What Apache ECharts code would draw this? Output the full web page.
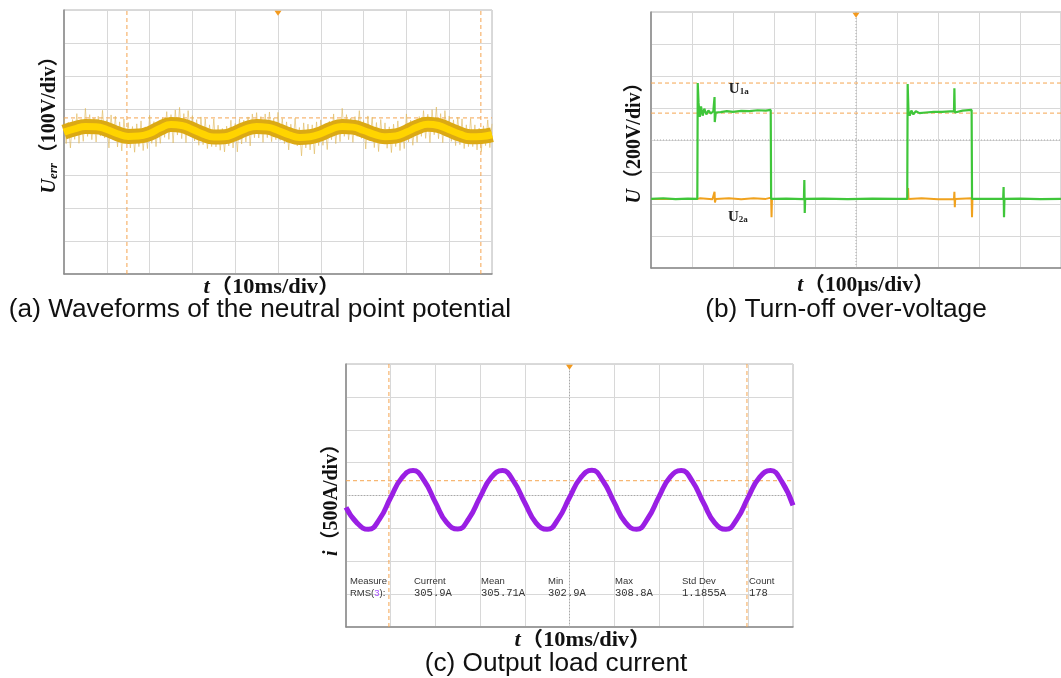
<!DOCTYPE html>
<html><head><meta charset="utf-8">
<script src="https://cdn.jsdelivr.net/npm/echarts@6/dist/echarts.min.js"></script>
<style>html,body{margin:0;padding:0;background:#fff}#c{width:1061px;height:678px}</style>
</head><body><div id="c"></div>
<script>
// ---------- DATA (oscilloscope divisions) ----------
// (a) neutral point potential: band centre every 0.25 div
const aCentre = [0.30,0.40,0.47,0.46,0.38,0.25,0.17,0.18,0.26,0.42,0.53,0.50,0.38,0.24,0.15,0.16,0.26,0.40,0.47,0.45,0.35,0.22,0.14,0.16,0.25,0.39,0.47,0.45,0.35,0.23,0.16,0.18,0.30,0.45,0.54,0.50,0.37,0.24,0.16,0.17,0.22];
// (a) switching noise every 0.05 div
const aNoise = [
 .72,-.05,.60,-.18,.68, .08,.86,-.04,.68,.02, 1.02,.17,.83,.07,.73, .00,.78,.18,.96,.12,
 .68,-.18,.82,.06,.78, -.15,.61,-.27,.70,-.02, .59,-.18,.47,-.31,.55, -.14,.64,-.26,.46,-.20,
 .81,-.04,.62,-.14,.52, -.04,.74,.14,.92,.08, .83,-.03,.97,.21,1.05, .10,.86,-.02,.95,.23,
 .80,.03,.68,-.10,.76, -.08,.70,-.20,.52,-.14, .70,-.15,.51,-.25,.41, -.30,.48,-.12,.66,-.18,
 .56,-.30,.70,-.06,.66, .00,.76,-.12,.85,.13, .89,.12,.77,-.01,.85, .13,.91,.01,.73,.07,
 .90,.05,.71,-.05,.61, -.24,.54,-.06,.72,-.12, .44,-.42,.58,-.18,.54, -.24,.52,-.36,.61,-.11,
 .67,-.10,.55,-.23,.63, .07,.85,-.05,.67,.01, 1.02,.17,.83,.07,.73, -.01,.77,.17,.95,.11,
 .65,-.21,.79,.03,.75, -.17,.59,-.29,.68,-.04, .58,-.19,.46,-.32,.54, -.14,.64,-.26,.46,-.20,
 .85,.00,.66,-.10,.56, -.01,.77,.17,.95,.11, .84,-.02,.98,.22,1.06, .10,.86,-.02,.95,.23,
 .79,.02,.67,-.11,.75, -.08,.70,-.20,.52,-.14, .71,-.14,.52,-.24,.42, -.29,.49,-.11,.67,-.17,
 .55];
const aCursorX = [1.47, 9.74];
const aCursorY = [0.73];

// (b) turn-off over-voltage, [time div, volt div]
const u1a = [[0,-1.84],[0.3,-1.82],[0.6,-1.85],[0.9,-1.83],[1.13,-1.84],[1.14,1.78],[1.16,1.16],[1.19,0.72],[1.22,1.05],[1.26,0.76],[1.30,0.98],[1.35,0.80],[1.40,0.92],[1.46,0.83],[1.52,0.90],[1.545,0.86],[1.55,1.34],[1.555,0.56],[1.58,0.86],[1.7,0.87],[1.85,0.90],[2.0,0.88],[2.2,0.91],[2.4,0.90],[2.6,0.93],[2.8,0.92],[2.92,0.94],[2.93,-1.84],[2.95,-1.78],[3.0,-1.84],[3.3,-1.83],[3.73,-1.85],[3.74,-1.25],[3.75,-2.28],[3.76,-1.84],[4.2,-1.83],[4.8,-1.85],[5.4,-1.83],[6.0,-1.84],[6.25,-1.84],[6.26,1.75],[6.28,0.90],[6.31,0.76],[6.35,0.92],[6.40,0.80],[6.46,0.90],[6.55,0.84],[6.7,0.86],[6.9,0.88],[7.1,0.88],[7.39,0.90],[7.40,1.62],[7.41,0.86],[7.6,0.92],[7.82,0.94],[7.83,-1.84],[7.86,-1.80],[8.2,-1.84],[8.59,-1.83],[8.60,-1.47],[8.61,-2.41],[8.62,-1.84],[9.0,-1.83],[9.5,-1.85],[10,-1.84]];
const u2a = [[0,-1.84],[1.14,-1.84],[1.2,-1.82],[1.5,-1.85],[1.55,-1.62],[1.56,-1.95],[1.58,-1.84],[1.9,-1.82],[2.2,-1.85],[2.5,-1.82],[2.8,-1.84],[2.93,-1.80],[2.94,-2.41],[2.95,-1.84],[4,-1.84],[6.26,-1.84],[6.27,-1.50],[6.28,-1.84],[6.6,-1.82],[7.0,-1.85],[7.39,-1.84],[7.40,-1.62],[7.41,-2.10],[7.42,-1.84],[7.82,-1.82],[7.83,-2.41],[7.84,-1.84],[10,-1.84]];
const bCursorY = [1.78, 0.84];

// (c) output load current every 0.25 div
const cCurrent = [-0.36,-0.84,-1.03,-0.72,-0.06,0.54,0.76,0.45,-0.21,-0.82,-1.02,-0.70,-0.05,0.55,0.76,0.43,-0.22,-0.83,-1.03,-0.71,-0.06,0.54,0.77,0.44,-0.21,-0.82,-1.03,-0.70,-0.04,0.56,0.76,0.43,-0.23,-0.83,-1.03,-0.71,-0.05,0.55,0.76,0.42,-0.30];
const cCursorX = [0.96, 8.97];
const cCursorY = [0.45];

// measurement table
const measureHeaders = ['Current','Mean','Min','Max','Std Dev','Count'];
const measureValues = ['305.9A','305.71A','302.9A','308.8A','1.1855A','178'];

// texts
const captions = ['(a) Waveforms of the neutral point potential','(b) Turn-off over-voltage','(c) Output load current'];

// ---------- CHART ----------
const chart = echarts.init(document.getElementById('c'), null, {renderer:'canvas'});
const SERIF = "'Liberation Serif','Times New Roman','Noto Sans CJK SC',serif";
const SANS = "'Liberation Sans',Arial,sans-serif";
const grids = [
  {left:64, top:10, width:428, height:264},
  {left:651, top:12, width:420, height:256},
  {left:346, top:364, width:447, height:263}
].map(g => Object.assign({show:true, borderColor:'#b4b4b4', borderWidth:1, backgroundColor:'#fff', containLabel:false}, g));

function xAx(gi){return {gridIndex:gi,type:'value',min:0,max:10,interval:1,axisLabel:{show:false},axisTick:{show:false},
  axisLine:{show:true,onZero:false,lineStyle:{color:'#8a8a8a',width:1.5}},splitLine:{show:true,lineStyle:{color:'#d8d8d8',width:1}}};}
function yAx(gi){return {gridIndex:gi,type:'value',min:-4,max:4,interval:1,axisLabel:{show:false},axisTick:{show:false},
  axisLine:{show:true,onZero:false,lineStyle:{color:'#8a8a8a',width:1.5}},splitLine:{show:true,lineStyle:{color:'#d8d8d8',width:1}}};}

// reference lines drawn as two-point line series
function refLine(gi, pts, style, z){
  return {type:'line', xAxisIndex:gi, yAxisIndex:gi, data:pts, showSymbol:false, symbol:'none', silent:true,
    lineStyle:style, z:z||1, emphasis:{disabled:true}};
}
const CUR = () => ({type:[4,3], color:'#f5a550', width:1});
const CEN = () => ({type:[1,2], color:'#a8a8a8', width:1});
function cursors(gi, xs, ys, centre){
  const out = [];
  if (centre){ out.push(refLine(gi, [[5,-4],[5,4]], CEN(), 1)); out.push(refLine(gi, [[0,0],[10,0]], CEN(), 1)); }
  xs.forEach(v => out.push(refLine(gi, [[v,-4],[v,4]], CUR(), 1)));
  ys.forEach(v => out.push(refLine(gi, [[0,v],[10,v]], CUR(), 1)));
  return out;
}
function topMark(){ return {silent:true, symbol:'triangle', symbolRotate:180, symbolSize:[7,5], itemStyle:{color:'#f39a1e'}, label:{show:false}, data:[{coord:[5,3.9]}]}; }

const series = [].concat(
  cursors(0, aCursorX, aCursorY, false),
  cursors(1, [], bCursorY, true),
  cursors(2, cCursorX, cCursorY, true),
  [
  {type:'line', xAxisIndex:0, yAxisIndex:0, data:aNoise.map((v,i)=>[i*0.05, v]), showSymbol:false, symbol:'none',
   lineStyle:{color:'rgba(224,184,88,0.6)', width:1}, z:2, markPoint:topMark()},
  {type:'line', xAxisIndex:0, yAxisIndex:0, data:aCentre.map((v,i)=>[i*0.25, v]), smooth:true, showSymbol:false, symbol:'none',
   lineStyle:{color:'#dba914', width:15}, z:3},
  {type:'line', xAxisIndex:0, yAxisIndex:0, data:aCentre.map((v,i)=>[i*0.25, v]), smooth:true, showSymbol:false, symbol:'none',
   lineStyle:{color:'#ffd400', width:7}, z:4},
  {type:'line', xAxisIndex:1, yAxisIndex:1, data:u2a, showSymbol:false, symbol:'none',
   lineStyle:{color:'#f0a21e', width:2}, z:2, markPoint:topMark()},
  {type:'line', xAxisIndex:1, yAxisIndex:1, data:u1a, showSymbol:false, symbol:'none',
   lineStyle:{color:'#3fc63a', width:2.2}, z:3},
  {type:'line', xAxisIndex:2, yAxisIndex:2, data:cCurrent.map((v,i)=>[i*0.25, v]), smooth:true, showSymbol:false, symbol:'none',
   lineStyle:{color:'#9a1fe4', width:5}, z:3, markPoint:topMark()}
  ]
);

chart.setOption({
  animation:false,
  grid:grids,
  xAxis:[xAx(0),xAx(1),xAx(2)],
  yAxis:[yAx(0),yAx(1),yAx(2)],
  series:series
});

// ---------- TEXT ----------
const R = {
  it:{fontFamily:SERIF, fontWeight:'bold', fontStyle:'italic', fontSize:20, fill:'#111'},
  n:{fontFamily:SERIF, fontWeight:'bold', fontSize:20, fill:'#111'},
  sub:{fontFamily:SERIF, fontWeight:'bold', fontStyle:'italic', fontSize:13, fill:'#111', verticalAlign:'bottom'}
};
function title(text, x, y, rot, sx){
  return {type:'text', x:x, y:y, rotation:rot||0, scaleX:sx||1, z:10, style:{text:text, rich:R, align:'center', verticalAlign:'middle', fill:'#111'}};
}
const g = [];
g.push(title('{it|t}{n|（10ms/div）}', 272, 288, 0, 1.12));
g.push(title('{it|U}{sub|err}{n|（100V/div）}', 50, 120, Math.PI/2));
g.push(title('{it|t}{n|（100µs/div）}', 866, 286, 0, 1.08));
g.push(title('{it|U}{n|（200V/div）}', 635, 138, Math.PI/2));
g.push(title('{it|t}{n|（10ms/div）}', 583, 641, 0, 1.12));
g.push(title('{it|i}{n|（500A/div）}', 332, 495, Math.PI/2));

const capPos = [[260,310],[846,310],[556,664]];
captions.forEach((c,i)=>g.push({type:'text', x:capPos[i][0], y:capPos[i][1], scaleX:1.05, z:10,
  style:{text:c, align:'center', verticalAlign:'middle', fill:'#111', fontFamily:SANS, fontSize:25}}));

// waveform labels anchored to data coordinates of panel (b)
const LR = {u:{fontFamily:SERIF, fontWeight:'bold', fontSize:15, fill:'#222'}, s:{fontFamily:SERIF, fontWeight:'bold', fontSize:9, fill:'#222', verticalAlign:'bottom'}};
const p1 = chart.convertToPixel({gridIndex:1}, [2.14, 1.59]);
const p2 = chart.convertToPixel({gridIndex:1}, [2.12, -2.41]);
g.push({type:'text', x:p1[0], y:p1[1], z:10, style:{text:'{u|U}{s|1a}', rich:LR, align:'center', verticalAlign:'middle'}});
g.push({type:'text', x:p2[0], y:p2[1], z:10, style:{text:'{u|U}{s|2a}', rich:LR, align:'center', verticalAlign:'middle'}});

// measurement table in panel (c)
const tableColX = [414, 481, 548, 615, 682, 749];
const MONO = "'Liberation Mono','DejaVu Sans Mono',monospace";
g.push({type:'text', x:350, y:581, z:10, style:{text:'Measure', fill:'#333', fontFamily:SANS, fontSize:9.5, verticalAlign:'middle'}});
g.push({type:'text', x:350, y:593, z:10, style:{text:'{a|RMS(}{b|3}{a|):}', verticalAlign:'middle',
  rich:{a:{fill:'#333', fontFamily:SANS, fontSize:9.5}, b:{fill:'#a64dff', fontFamily:SANS, fontSize:9.5}}}});
measureHeaders.forEach((h,i)=>{
  g.push({type:'text', x:tableColX[i], y:581, z:10, style:{text:h, fill:'#333', fontFamily:SANS, fontSize:9.5, verticalAlign:'middle'}});
  g.push({type:'text', x:tableColX[i], y:593, z:10, style:{text:measureValues[i], fill:'#333', fontFamily:MONO, fontSize:10.5, verticalAlign:'middle'}});
});

chart.setOption({graphic:g});
</script></body></html>
